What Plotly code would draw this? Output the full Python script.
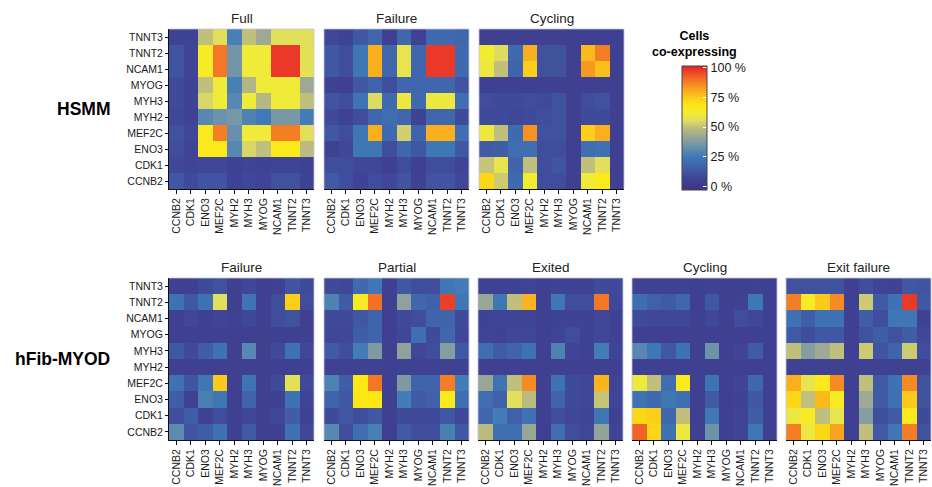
import plotly.graph_objects as go

W, H = 932, 487

genes = ["CCNB2", "CDK1", "ENO3", "MEF2C", "MYH2", "MYH3", "MYOG", "NCAM1", "TNNT2", "TNNT3"]
rows_top = genes[::-1]  # row order of the matrices below: TNNT3 (top) ... CCNB2 (bottom)

# values: % of cells co-expressing (rows top->bottom, columns CCNB2..TNNT3)
hsmm_full = [
    [6, 6, 50, 56, 27, 50, 43, 56, 56, 56],
    [12, 7, 65, 89, 35, 61, 61, 98, 98, 57],
    [12, 7, 65, 89, 35, 61, 61, 98, 98, 57],
    [9, 6, 50, 61, 27, 47, 61, 61, 61, 43],
    [9, 6, 54, 61, 30, 61, 48, 61, 61, 50],
    [8, 5, 30, 34, 36, 28, 25, 36, 36, 26],
    [11, 8, 66, 88, 33, 61, 61, 88, 88, 56],
    [10, 7, 67, 67, 30, 54, 50, 67, 67, 49],
    [8, 7, 8, 8, 5, 7, 6, 7, 7, 5],
    [13, 9, 12, 12, 6, 8, 7, 11, 11, 6],
]
hsmm_failure = [
    [8, 6, 13, 18, 4, 18, 5, 19, 19, 18],
    [13, 10, 24, 80, 18, 58, 18, 98, 98, 19],
    [13, 10, 24, 80, 18, 58, 18, 98, 98, 19],
    [5, 4, 13, 17, 10, 18, 18, 18, 18, 12],
    [12, 10, 23, 55, 19, 60, 19, 60, 60, 21],
    [9, 5, 10, 18, 20, 18, 6, 18, 18, 9],
    [13, 10, 24, 80, 19, 53, 17, 80, 80, 21],
    [5, 8, 24, 24, 10, 18, 13, 24, 24, 13],
    [10, 10, 8, 8, 4, 10, 4, 10, 10, 7],
    [14, 10, 6, 10, 8, 12, 5, 12, 12, 8],
]
hsmm_cycling = [
    [4, 4, 4, 4, 4, 4, 4, 4, 4, 4],
    [62, 55, 19, 80, 11, 11, 4, 78, 88, 4],
    [60, 50, 17, 74, 11, 11, 4, 84, 77, 4],
    [4, 4, 4, 4, 4, 4, 4, 4, 4, 4],
    [10, 9, 9, 10, 9, 11, 4, 10, 11, 4],
    [9, 9, 8, 9, 10, 11, 4, 9, 9, 4],
    [60, 50, 19, 85, 11, 11, 4, 74, 80, 4],
    [14, 15, 21, 21, 10, 10, 4, 21, 22, 4],
    [51, 58, 17, 50, 10, 12, 4, 50, 56, 4],
    [72, 52, 19, 62, 10, 10, 4, 61, 67, 4],
]
hfib_failure = [
    [4, 4, 9, 11, 4, 8, 4, 5, 12, 9],
    [22, 13, 22, 56, 4, 23, 4, 10, 74, 10],
    [4, 8, 4, 7, 5, 8, 4, 10, 11, 4],
    [4, 4, 4, 4, 4, 4, 4, 4, 4, 4],
    [13, 9, 15, 22, 4, 30, 4, 9, 22, 8],
    [4, 4, 4, 4, 4, 4, 4, 4, 4, 4],
    [22, 12, 24, 75, 4, 23, 4, 9, 57, 9],
    [15, 5, 27, 24, 4, 17, 4, 4, 22, 7],
    [10, 15, 5, 10, 4, 8, 4, 8, 15, 5],
    [31, 12, 15, 22, 4, 14, 4, 4, 22, 8],
]
hfib_partial = [
    [9, 8, 19, 24, 4, 13, 10, 10, 24, 26],
    [28, 14, 65, 90, 4, 40, 18, 16, 97, 24],
    [9, 9, 13, 17, 4, 9, 10, 17, 17, 9],
    [8, 8, 15, 17, 4, 8, 21, 9, 18, 8],
    [14, 10, 26, 37, 4, 40, 8, 10, 38, 13],
    [5, 5, 5, 5, 4, 5, 5, 5, 5, 5],
    [28, 15, 68, 89, 4, 37, 17, 17, 88, 26],
    [17, 13, 68, 68, 4, 26, 14, 16, 66, 21],
    [9, 13, 10, 13, 4, 9, 9, 9, 13, 8],
    [30, 10, 20, 27, 4, 14, 10, 10, 27, 13],
]
hfib_exited = [
    [5, 5, 6, 7, 4, 6, 5, 5, 9, 9],
    [42, 24, 50, 79, 4, 24, 10, 10, 89, 8],
    [6, 7, 7, 7, 4, 6, 6, 6, 8, 5],
    [7, 6, 8, 8, 4, 7, 10, 6, 8, 5],
    [20, 14, 17, 22, 4, 28, 7, 5, 26, 7],
    [4, 4, 4, 4, 4, 4, 4, 4, 4, 4],
    [42, 23, 50, 86, 4, 22, 9, 8, 79, 7],
    [20, 16, 56, 49, 4, 17, 9, 8, 51, 7],
    [18, 26, 16, 22, 4, 10, 8, 7, 24, 5],
    [49, 21, 21, 42, 4, 20, 10, 8, 41, 7],
]
hfib_cycling = [
    [5, 5, 5, 5, 4, 5, 4, 4, 5, 4],
    [20, 16, 14, 18, 4, 13, 4, 5, 24, 4],
    [9, 8, 8, 8, 4, 8, 4, 10, 8, 4],
    [4, 4, 4, 4, 4, 4, 4, 4, 4, 4],
    [30, 24, 13, 22, 4, 34, 4, 7, 14, 4],
    [4, 4, 4, 4, 4, 4, 4, 4, 4, 4],
    [60, 50, 20, 67, 4, 23, 4, 7, 18, 4],
    [22, 19, 24, 21, 4, 14, 4, 6, 13, 4],
    [72, 74, 18, 50, 4, 24, 4, 7, 15, 4],
    [92, 72, 22, 60, 4, 34, 4, 7, 24, 4],
]
hfib_exitfail = [
    [11, 11, 11, 11, 4, 10, 7, 6, 13, 12],
    [88, 65, 75, 86, 4, 52, 14, 22, 98, 13],
    [22, 15, 22, 22, 4, 15, 10, 24, 24, 5],
    [14, 10, 13, 13, 4, 11, 15, 11, 15, 8],
    [50, 38, 43, 50, 4, 52, 12, 17, 52, 10],
    [5, 5, 5, 5, 4, 5, 5, 5, 5, 5],
    [80, 58, 67, 86, 4, 50, 14, 22, 86, 11],
    [72, 50, 78, 65, 4, 43, 14, 22, 75, 11],
    [60, 65, 50, 58, 4, 38, 10, 14, 66, 9],
    [88, 60, 72, 82, 4, 50, 14, 24, 88, 11],
]

panel_titles = ["Full", "Failure", "Cycling", "Failure", "Partial", "Exited", "Cycling", "Exit failure"]
panel_data = [hsmm_full, hsmm_failure, hsmm_cycling,
              hfib_failure, hfib_partial, hfib_exited, hfib_cycling, hfib_exitfail]
row_labels = ["HSMM", "hFib-MYOD"]
cbar_ticks = [0, 25, 50, 75, 100]
cbar_ticktext = ["0 %", "25 %", "50 %", "75 %", "100 %"]

colorscale = [
    [0.00, "#3c3585"],
    [0.10, "#404597"],
    [0.20, "#4067ad"],
    [0.27, "#3f7ab7"],
    [0.35, "#6b92ac"],
    [0.43, "#98a696"],
    [0.50, "#bcbc80"],
    [0.56, "#e0de5e"],
    [0.62, "#f2ec32"],
    [0.68, "#fde816"],
    [0.75, "#fcc81a"],
    [0.82, "#f8a020"],
    [0.90, "#f16a26"],
    [1.00, "#e6202a"],
]

# panel pixel boxes (top, bottom) per row, and left edges
row_boxes = [(29, 189), (278, 440)]
col_lefts = [[169, 324, 479], [169, 324, 478, 632, 786]]
panel_w = 145

def px_x(v):
    return v / W

def px_y(v):
    return (H - v) / H

fig = go.Figure()
layout = {}
shapes = []
annotations = []
font_family = "Liberation Sans, Arial, sans-serif"

k = 0
for r, lefts in enumerate(col_lefts):
    top, bottom = row_boxes[r]
    for c, left in enumerate(lefts):
        k += 1
        sfx = "" if k == 1 else str(k)
        fig.add_trace(go.Heatmap(
            z=panel_data[k - 1], x=genes, y=rows_top,
            coloraxis="coloraxis", xaxis="x" + sfx, yaxis="y" + sfx,
            hovertemplate="%{y} / %{x}: %{z}%<extra></extra>",
        ))
        layout["xaxis" + sfx] = dict(
            domain=[px_x(left), px_x(left + panel_w)], anchor="y" + sfx,
            categoryorder="array", categoryarray=genes,
            showline=True, linecolor="#111", linewidth=1,
            ticks="outside", ticklen=4, tickcolor="#111", tickwidth=1,
            tickangle=-90, tickfont=dict(size=10.5, color="#1a1a1a", family=font_family),
            showgrid=False, zeroline=False, fixedrange=True,
        )
        first = (c == 0)
        layout["yaxis" + sfx] = dict(
            domain=[px_y(bottom), px_y(top)], anchor="x" + sfx,
            categoryorder="array", categoryarray=genes,
            showline=first, linecolor="#111", linewidth=1,
            ticks="outside" if first else "", ticklen=3, tickcolor="#111",
            showticklabels=first,
            tickfont=dict(size=10.5, color="#1a1a1a", family=font_family),
            showgrid=False, zeroline=False, fixedrange=True,
        )
        # light panel border (top, right and left for non-first panels)
        border = dict(color="#c4c4de", width=0.8)
        shapes.append(dict(type="line", xref="x" + sfx + " domain", yref="y" + sfx + " domain",
                           x0=0, x1=1, y0=1, y1=1, line=border))
        shapes.append(dict(type="line", xref="x" + sfx + " domain", yref="y" + sfx + " domain",
                           x0=1, x1=1, y0=0, y1=1, line=border))
        if not first:
            shapes.append(dict(type="line", xref="x" + sfx + " domain", yref="y" + sfx + " domain",
                               x0=0, x1=0, y0=0, y1=1, line=border))
        annotations.append(dict(
            text=panel_titles[k - 1], xref="x" + sfx + " domain", yref="y" + sfx + " domain",
            x=0.5, y=1, xanchor="center", yanchor="bottom", yshift=1, showarrow=False,
            font=dict(size=13.5, color="#222", family=font_family),
        ))

annotations.append(dict(text="<b>" + row_labels[0] + "</b>", xref="paper", yref="paper",
                        x=px_x(83), y=px_y(109), xanchor="center", yanchor="middle",
                        showarrow=False, font=dict(size=17.5, color="#000", family=font_family)))
annotations.append(dict(text="<b>" + row_labels[1] + "</b>", xref="paper", yref="paper",
                        x=px_x(62), y=px_y(359), xanchor="center", yanchor="middle",
                        showarrow=False, font=dict(size=17.5, color="#000", family=font_family)))
annotations.append(dict(text="<b>Cells</b><br><b>co-expressing</b>", xref="paper", yref="paper",
                        x=px_x(694), y=px_y(44), xanchor="center", yanchor="middle",
                        showarrow=False, font=dict(size=12.5, color="#000", family=font_family)))

fig.update_layout(
    width=W, height=H,
    margin=dict(l=0, r=0, t=0, b=0),
    paper_bgcolor="white", plot_bgcolor="white",
    font=dict(family=font_family),
    coloraxis=dict(
        colorscale=colorscale, cmin=-3, cmax=101.5,
        colorbar=dict(
            x=px_x(682), xanchor="left", y=px_y(128), yanchor="middle",
            len=124, lenmode="pixels", thickness=25, thicknessmode="pixels",
            xpad=0, ypad=0, outlinewidth=1, outlinecolor="#444",
            tickvals=cbar_ticks, ticktext=cbar_ticktext,
            ticks="inside", tickcolor="white", ticklen=4,
            tickfont=dict(size=12.5, color="#1a1a1a", family=font_family),
        ),
    ),
    shapes=shapes,
    annotations=annotations,
    **layout,
)

fig.write_html("out.html", config={"displayModeBar": False},
               post_script="document.body.style.margin='0';document.body.style.overflow='hidden';")
